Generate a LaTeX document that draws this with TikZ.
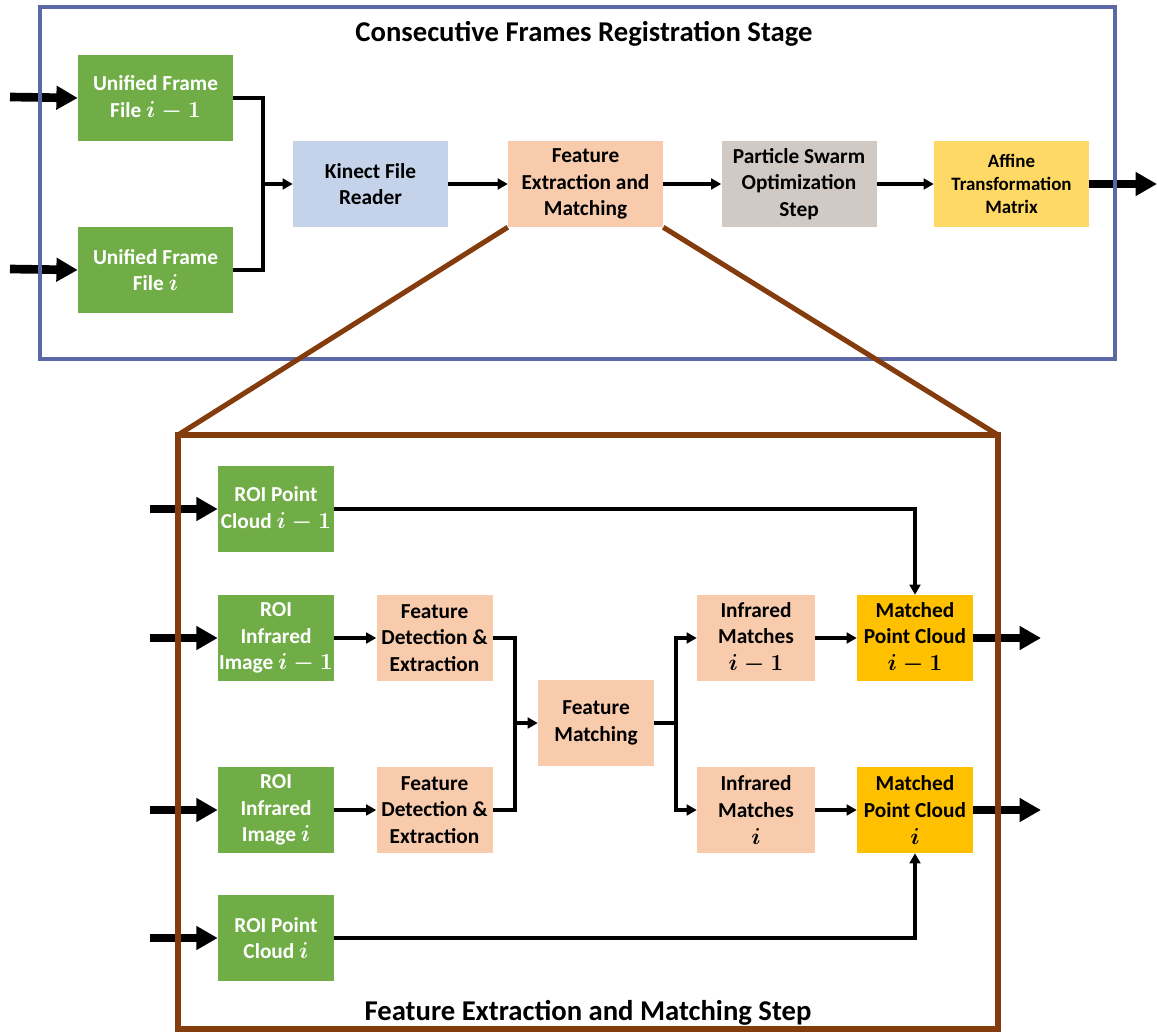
\documentclass[tikz,border=0pt]{standalone}
\usepackage{fontspec}
\setmainfont{Carlito}
\usetikzlibrary{arrows.meta}
\definecolor{cgreen}{RGB}{112,173,71}
\definecolor{cblue}{RGB}{197,211,234}
\definecolor{csalmon}{RGB}{248,203,173}
\definecolor{cgray}{RGB}{208,201,196}
\definecolor{cyellow}{RGB}{255,217,102}
\definecolor{corange}{RGB}{255,192,0}
\definecolor{cframe}{RGB}{92,103,166}
\definecolor{cbrown}{RGB}{132,60,12}
% bold math inside its own group, so the math version switch stays local
\newcommand{\boldvar}[1]{{\boldmath$#1$}}
\begin{document}
\begin{tikzpicture}[x=0.75pt,y=-0.75pt,
  box/.style={rectangle, inner sep=0pt, align=center,
    font=\bfseries\fontsize{16}{20}\selectfont},
  wide/.style={box, minimum width=155*0.75pt, minimum height=86*0.75pt},
  narrow/.style={box, minimum width=116*0.75pt, minimum height=86*0.75pt},
  greenbox/.style={fill=cgreen, text=white},
  salmonbox/.style={fill=csalmon, text=black},
  link/.style={draw=black, line width=2.3pt},
  linkarrow/.style={link, -{Triangle[length=7.5pt,width=8pt]}},
  bigarrow/.style={draw=black, line width=6.5pt, -{Triangle[length=16pt,width=17pt]}},
  title/.style={font=\bfseries\fontsize{21.5}{24}\selectfont}
]
\useasboundingbox (0,0) rectangle (1157,1032);

% ---------- registration stage ----------
\node[wide, greenbox] (uf1) at (155.5,98) {Unified Frame\\File \boldvar{i-1}};
\node[wide, greenbox] (uf2) at (155.5,270) {Unified Frame\\File \boldvar{i}};
\node[wide, fill=cblue] (kfr) at (370.5,184) {Kinect File\\Reader};
\node[wide, salmonbox] (fea) at (585.5,184) {Feature\\Extraction and\\Matching};
\node[wide, fill=cgray] (pso) at (799,184) {Particle Swarm\\Optimization\\Step};
\node[wide, fill=cyellow, font=\bfseries\fontsize{14.2}{17.5}\selectfont] (aff) at (1011.5,184) {Affine\\Transformation\\Matrix};
\node[title] (t1) at (584,34) {Consecutive Frames Registration Stage};

\coordinate (j1) at (263,184);
\draw[link] (uf1.east) -| (j1);
\draw[link] (uf2.east) -| (j1);
\draw[linkarrow] (j1) -- (kfr.west);
\draw[linkarrow] (kfr.east) -- (fea.west);
\draw[linkarrow] (fea.east) -- (pso.west);
\draw[linkarrow] (pso.east) -- (aff.west);

\coordinate (in1) at (10,97);
\coordinate (in2) at (10,269);
\coordinate (out0) at (1157,184);
\draw[bigarrow] (in1) -- (uf1.west);
\draw[bigarrow] (in2) -- (uf2.west);
\draw[bigarrow] (aff.east) -- (out0);

% ---------- feature extraction and matching step ----------
\node[narrow, greenbox] (pc1) at (276,509) {ROI Point\\Cloud \boldvar{i-1}};
\node[narrow, greenbox] (ir1) at (276,638) {ROI\\Infrared\\Image \boldvar{i-1}};
\node[narrow, greenbox] (ir2) at (276,810) {ROI\\Infrared\\Image \boldvar{i}};
\node[narrow, greenbox] (pc2) at (276,938) {ROI Point\\Cloud \boldvar{i}};
\node[narrow, salmonbox] (fde1) at (434.5,638) {Feature\\Detection \&\\Extraction};
\node[narrow, salmonbox] (fde2) at (434.5,810) {Feature\\Detection \&\\Extraction};
\node[narrow, salmonbox] (fm) at (596,723) {Feature\\Matching};
\node[narrow, salmonbox, minimum width=118*0.75pt] (im1) at (756,638) {Infrared\\Matches\\\boldvar{i-1}};
\node[narrow, salmonbox, minimum width=118*0.75pt] (im2) at (756,810) {Infrared\\Matches\\\boldvar{i}};
\node[narrow, fill=corange] (mpc1) at (915,638) {Matched\\Point Cloud\\\boldvar{i-1}};
\node[narrow, fill=corange] (mpc2) at (915,810) {Matched\\Point Cloud\\\boldvar{i}};
\node[title] (t2) at (588,1013) {Feature Extraction and Matching Step};

\draw[linkarrow] (ir1.east) -- (fde1.west);
\draw[linkarrow] (ir2.east) -- (fde2.west);
\coordinate (j2) at (515,723);
\draw[link] (fde1.east) -| (j2);
\draw[link] (fde2.east) -| (j2);
\draw[linkarrow] (j2) -- (fm.west);
\coordinate (j3) at (676,723);
\draw[link] (fm.east) -- (j3);
\draw[linkarrow] (j3) |- (im1.west);
\draw[linkarrow] (j3) |- (im2.west);
\draw[linkarrow] (im1.east) -- (mpc1.west);
\draw[linkarrow] (im2.east) -- (mpc2.west);
\draw[linkarrow] (pc1.east) -| (mpc1.north);
\draw[linkarrow] (pc2.east) -| (mpc2.south);

\coordinate (in3) at (150,509);
\coordinate (in4) at (150,638);
\coordinate (in5) at (150,810);
\coordinate (in6) at (150,938);
\coordinate (out1) at (1041,638);
\coordinate (out2) at (1041,810);
\draw[bigarrow] (in3) -- (pc1.west);
\draw[bigarrow] (in4) -- (ir1.west);
\draw[bigarrow] (in5) -- (ir2.west);
\draw[bigarrow] (in6) -- (pc2.west);
\draw[bigarrow] (mpc1.east) -- (out1);
\draw[bigarrow] (mpc2.east) -- (out2);

% ---------- frames and zoom lines ----------
\draw[cframe, line width=3pt] (40,7) rectangle (1115,359);
\coordinate (bl) at (178,435);
\coordinate (br) at (998,435);
\draw[cbrown, line width=3.8pt] (bl) rectangle (998,1029);
\draw[cbrown, line width=3.8pt] (fea.south west) -- (bl);
\draw[cbrown, line width=3.8pt] (fea.south east) -- (br);
\end{tikzpicture}
\end{document}
